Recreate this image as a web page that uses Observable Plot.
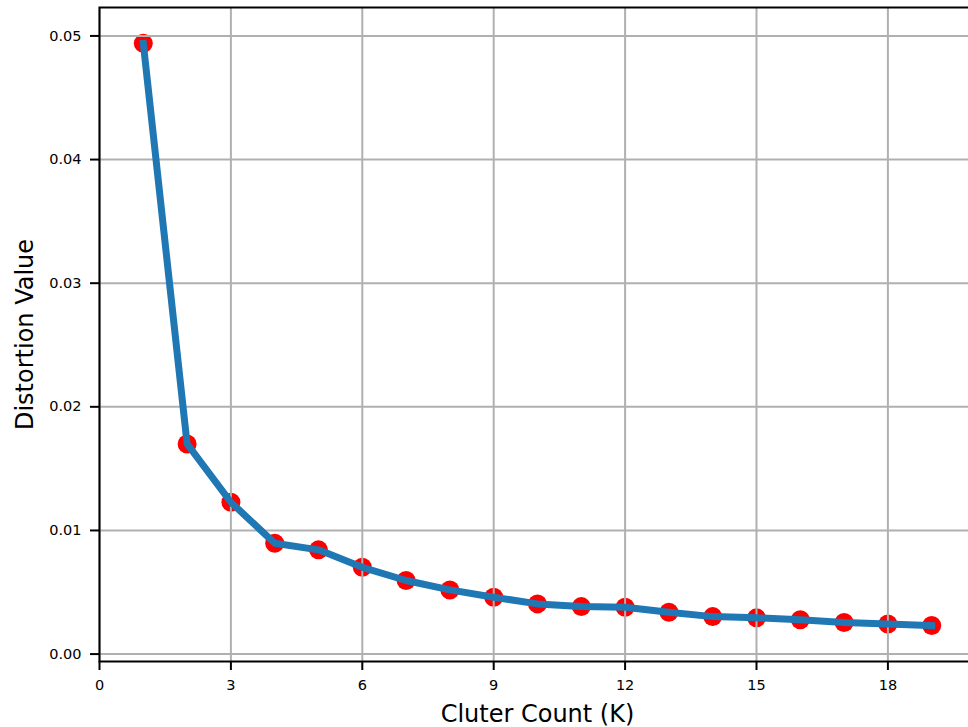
<!DOCTYPE html>
<html>
<head>
<meta charset="utf-8">
<script src="https://cdn.jsdelivr.net/npm/d3@7"></script>
<script src="https://cdn.jsdelivr.net/npm/@observablehq/plot@0.6"></script>
<style>
  html, body { margin: 0; padding: 0; background: white; }
  #chart svg { overflow: hidden; }
</style>
</head>
<body>
<div id="chart"></div>
<script>
const kValues = [1, 2, 3, 4, 5, 6, 7, 8, 9, 10, 11, 12, 13, 14, 15, 16, 17, 18, 19];
const distortion = [0.0494, 0.0170, 0.01228, 0.00896, 0.00843, 0.00702, 0.00595, 0.00519, 0.00460, 0.00406,
                    0.00384, 0.00379, 0.00338, 0.00303, 0.00293, 0.00277, 0.00255, 0.00244, 0.00231];
const xTicks = [0, 3, 6, 9, 12, 15, 18];
const yTicks = [0, 0.01, 0.02, 0.03, 0.04, 0.05];
const xLabel = "Cluter Count (K)";
const yLabel = "Distortion Value";

const data = kValues.map((k, i) => ({k, d: distortion[i]}));
const font = "DejaVu Sans, sans-serif";

const chart = Plot.plot({
  width: 968,
  height: 727,
  marginLeft: 99,
  marginRight: -7,
  marginTop: 7,
  marginBottom: 66,
  style: {fontFamily: font, fontSize: "14.5px", color: "black", background: "white", overflow: "hidden"},
  x: {domain: [0, 20]},
  y: {domain: [-0.0006, 0.0523]},
  marks: [
    Plot.dot(data, {x: "k", y: "d", r: 9.5, fill: "#ff0000", stroke: "none"}),
    Plot.gridX(xTicks, {stroke: "#b0b0b0", strokeOpacity: 1, strokeWidth: 2}),
    Plot.gridY(yTicks, {stroke: "#b0b0b0", strokeOpacity: 1, strokeWidth: 2}),
    Plot.line(data, {x: "k", y: "d", stroke: "#1f77b4", strokeWidth: 7, strokeLinejoin: "round", strokeLinecap: "square"}),
    Plot.frame({stroke: "black", strokeWidth: 2}),
    Plot.axisX(xTicks, {label: null, tickSize: 9, tickPadding: 9, fontSize: 14.5, strokeWidth: 2, stroke: "black", fill: "black"}),
    Plot.axisY(yTicks, {label: null, tickSize: 9, tickPadding: 9, fontSize: 14.5, strokeWidth: 2, stroke: "black", fill: "black", tickFormat: d3.format(".2f")}),
    Plot.text([xLabel], {text: d => d, frameAnchor: "bottom", dy: 53, lineAnchor: "middle", textAnchor: "middle", fontSize: 24, fill: "black"}),
    Plot.text([yLabel], {text: d => d, frameAnchor: "left", dx: -74, rotate: -90, lineAnchor: "middle", textAnchor: "middle", fontSize: 24, fill: "black"})
  ]
});
document.getElementById("chart").appendChild(chart);
</script>
</body>
</html>
